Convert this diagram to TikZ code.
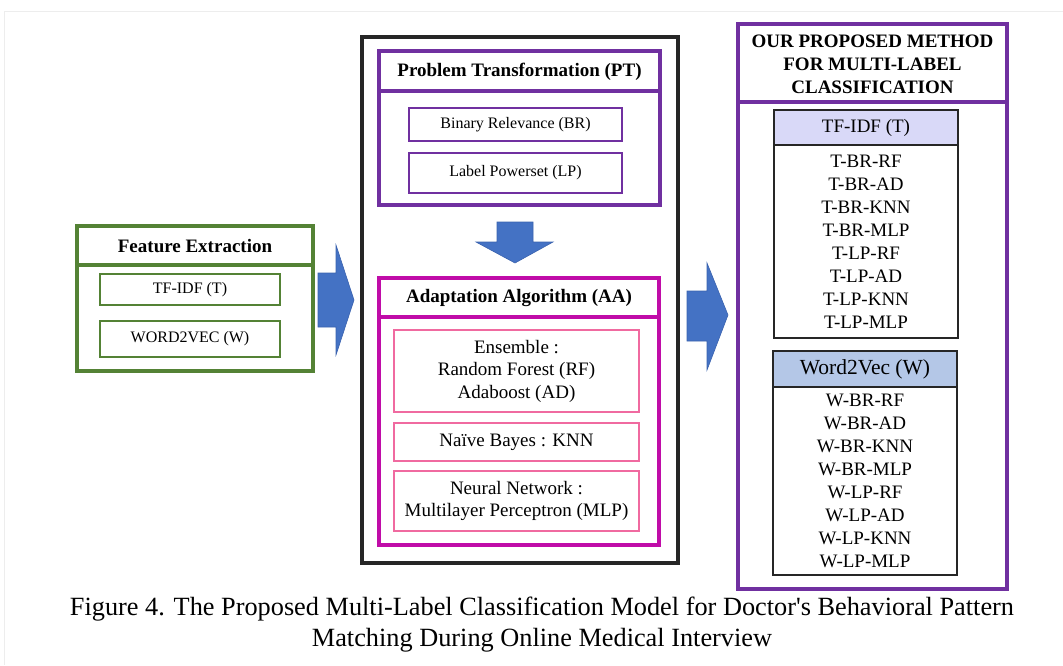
\documentclass[tikz,border=0pt]{standalone}
\usepackage{fontspec}
\setmainfont{Liberation Serif}
\definecolor{fgreen}{HTML}{548235}
\definecolor{ppurple}{HTML}{7030A0}
\definecolor{mmag}{HTML}{C00CA8}
\definecolor{ppink}{HTML}{F06AA0}
\definecolor{arrblue}{HTML}{4472C4}
\definecolor{arredge}{HTML}{3A62AE}
\definecolor{lav}{HTML}{D9D9F8}
\definecolor{lblue}{HTML}{B4C7E7}
\begin{document}
\begin{tikzpicture}[x=1pt,y=-1pt,
  every node/.style={inner sep=0pt, outer sep=0pt, align=center},
  ttl/.style={font=\fontsize{19}{23}\selectfont\bfseries},
  txt/.style={font=\fontsize{16}{20}\selectfont},
  aatxt/.style={font=\fontsize{19}{22.5}\selectfont},
  rtxt/.style={font=\fontsize{19}{23}\selectfont},
  featbox/.style={draw=fgreen, line width=3.2pt},
  featin/.style={draw=fgreen, line width=2.4pt, minimum width=180pt},
  ptbox/.style={draw=ppurple, line width=3.2pt},
  ptin/.style={draw=ppurple, line width=2.4pt, minimum width=213pt},
  aabox/.style={draw=mmag, line width=3.2pt},
  aain/.style={draw=ppink, line width=2.4pt, minimum width=245pt},
  blk/.style={fill=arrblue, draw=arredge, line width=0.6pt},
  tabhead/.style={draw=black!85, line width=1.5pt, minimum width=184pt},
  tabbody/.style={draw=black!85, line width=1.5pt, minimum width=184pt}
]
\useasboundingbox (0,0) rectangle (1063,665);
\draw[black!7, line width=1pt] (4,665) -- (4,11) -- (1063,11);

% Feature extraction
\node[featbox, minimum width=236pt, minimum height=145pt] (fe) at (195,298.5) {};
\draw[fgreen, line width=3.2pt] (fe.west |- 0,265) -- (fe.east |- 0,265);
\node[ttl] (fet) at (195,246) {Feature Extraction};
\node[featin, txt, minimum height=31pt] (tfidf) at (190,289.5) {TF-IDF (T)};
\node[featin, txt, minimum height=36pt] (w2v) at (190,339) {WORD2VEC (W)};

% Arrow 1
\draw[blk] (318,273) -- (336,273) -- (336,245) -- (354,300) -- (336,355) -- (336,327) -- (318,327) -- cycle;

% Middle box
\node[draw=black!85, line width=3.2pt, minimum width=316pt, minimum height=526pt] (mid) at (520,300) {};

% PT
\node[ptbox, minimum width=281pt, minimum height=154pt] (pt) at (519.5,128) {};
\draw[ppurple, line width=3.2pt] (pt.west |- 0,91) -- (pt.east |- 0,91);
\node[ttl] (ptt) at (519.5,72) {Problem Transformation (PT)};
\node[ptin, txt, minimum height=33pt] (br) at (515.5,124.5) {Binary Relevance (BR)};
\node[ptin, txt, minimum height=40pt] (lp) at (515.5,173) {Label Powerset (LP)};

% Down arrow
\draw[blk] (497,222) -- (533,222) -- (533,242) -- (553,242) -- (515,263) -- (476,242) -- (497,242) -- cycle;

% AA
\node[aabox, minimum width=280pt, minimum height=267pt] (aa) at (519,411.5) {};
\draw[mmag, line width=3.2pt] (aa.west |- 0,317) -- (aa.east |- 0,317);
\node[ttl] (aat) at (519,298) {Adaptation Algorithm (AA)};
\node[aain, aatxt, minimum height=82pt] (ens) at (516.5,371) {Ensemble :\\Random Forest (RF)\\Adaboost (AD)};
\node[aain, aatxt, minimum height=38pt] (nb) at (516.5,442) {Naïve Bayes : KNN};
\node[aain, aatxt, minimum height=60pt] (nn) at (516.5,501) {Neural Network :\\Multilayer Perceptron (MLP)};

% Arrow 2
\draw[blk] (687,291) -- (707,291) -- (707,263) -- (728,315) -- (707,370) -- (707,341) -- (687,341) -- cycle;

% Right box
\node[ptbox, minimum width=269pt, minimum height=565pt] (rb) at (872.5,306.5) {};
\draw[ppurple, line width=3.2pt] (rb.west |- 0,102) -- (rb.east |- 0,102);
\node[ttl] (rbt) at (872.5,64) {OUR PROPOSED METHOD\\FOR MULTI-LABEL\\CLASSIFICATION};

% TF-IDF table
\node[tabhead, fill=lav, minimum height=35pt, rtxt] (th1) at (866,127.5) {TF-IDF (T)};
\node[tabbody, minimum height=193pt, anchor=north, rtxt] (tb1) at (th1.south) {T-BR-RF\\T-BR-AD\\T-BR-KNN\\T-BR-MLP\\T-LP-RF\\T-LP-AD\\T-LP-KNN\\T-LP-MLP};

% Word2Vec table
\node[tabhead, fill=lblue, minimum height=36pt, font=\fontsize{21.5}{24}\selectfont] (th2) at (865,369) {Word2Vec (W)};
\node[tabbody, minimum height=188pt, anchor=north, rtxt] (tb2) at (th2.south) {W-BR-RF\\W-BR-AD\\W-BR-KNN\\W-BR-MLP\\W-LP-RF\\W-LP-AD\\W-LP-KNN\\W-LP-MLP};

% Caption
\node[font=\fontsize{26.3}{31}\selectfont] (cap) at (542,624.5) {Figure 4. The Proposed Multi-Label Classification Model for Doctor\textquotesingle s Behavioral Pattern\\Matching During Online Medical Interview};
\end{tikzpicture}
\end{document}
